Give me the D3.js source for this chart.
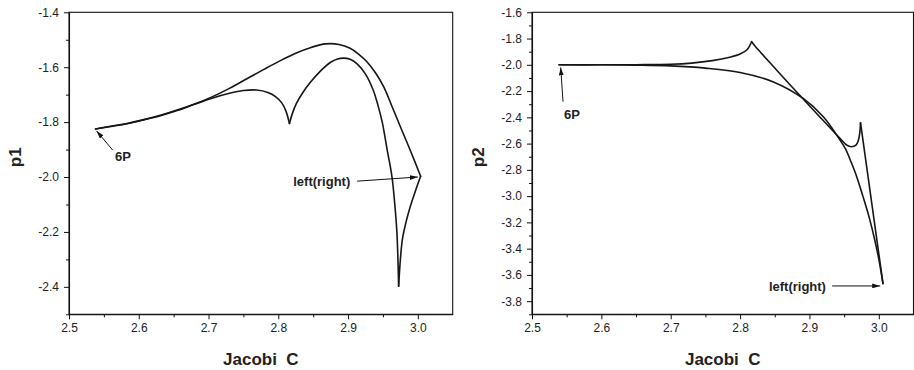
<!DOCTYPE html>
<html>
<head>
<meta charset="utf-8">
<script src="https://cdn.jsdelivr.net/npm/d3@7"></script>
<style>
  html, body { margin: 0; padding: 0; background: #fff; }
  svg { display: block; }
  text { font-family: "Liberation Sans", Arial, Helvetica, sans-serif; }
</style>
</head>
<body>
<svg id="chart" width="914" height="370"></svg>
<script>
// ---------------- data ----------------
const xMajorTicks = [2.5, 2.6, 2.7, 2.8, 2.9, 3.0];
const xMinorTicks = [2.55, 2.65, 2.75, 2.85, 2.95];
const p1MajorTicks = [-2.4, -2.2, -2.0, -1.8, -1.6, -1.4];
const p1MinorTicks = [-2.5, -2.3, -2.1, -1.9, -1.7, -1.5];
const p2MajorTicks = [-3.8, -3.6, -3.4, -3.2, -3.0, -2.8, -2.6, -2.4, -2.2, -2.0, -1.8, -1.6];
const p2MinorTicks = [-3.9, -3.7, -3.5, -3.3, -3.1, -2.9, -2.7, -2.5, -2.3, -2.1, -1.9, -1.7];
const xDomain = [2.5, 3.05];
const p1Domain = [-2.5, -1.4];
const p2Domain = [-3.9, -1.6];

// p1 curve, split at its cusps (Jacobi C, p1)
const p1Upper = [[2.538,-1.825],[2.56,-1.815],[2.583,-1.805],[2.607,-1.791],[2.631,-1.775],[2.655,-1.756],
  [2.68,-1.734],[2.705,-1.708],[2.73,-1.677],[2.755,-1.642],[2.78,-1.607],[2.803,-1.576],[2.825,-1.549],
  [2.848,-1.527],[2.868,-1.515],[2.887,-1.517],[2.903,-1.531],[2.915,-1.552],[2.927,-1.58],[2.94,-1.623],
  [2.951,-1.671],[2.963,-1.743],[2.975,-1.817],[2.99,-1.908],[3.004,-1.997]];
const p1RightCusp = [[3.004,-1.997],[2.998,-2.04],[2.989,-2.109],[2.983,-2.165],[2.978,-2.225],[2.975,-2.3],[2.9725,-2.398]];
const p1Hump = [[2.9725,-2.398],[2.9715,-2.3],[2.970,-2.2],[2.967,-2.1],[2.963,-2.0],[2.956,-1.9],[2.949,-1.8],
  [2.943,-1.74],[2.936,-1.683],[2.925,-1.625],[2.913,-1.588],[2.903,-1.571],[2.893,-1.567],[2.885,-1.57],
  [2.875,-1.582],[2.86,-1.615],[2.846,-1.655],[2.835,-1.693],[2.826,-1.732],[2.82,-1.77],[2.816,-1.805]];
const p1Lower = [[2.816,-1.805],[2.811,-1.76],[2.805,-1.73],[2.796,-1.707],[2.785,-1.692],[2.769,-1.683],
  [2.75,-1.685],[2.73,-1.695],[2.705,-1.713],[2.68,-1.735],[2.655,-1.758],[2.631,-1.777],[2.607,-1.792],
  [2.583,-1.806],[2.56,-1.816],[2.538,-1.825]];

// p2 curve, split at its cusps (Jacobi C, p2)
const p2Upper = [[2.539,-2.0],[2.6,-2.0],[2.65,-1.999],[2.7,-1.996],[2.73,-1.987],[2.76,-1.968],[2.785,-1.942],
  [2.8,-1.918],[2.81,-1.885],[2.8166,-1.824]];
const p2Dip = [[2.8166,-1.824],[2.822,-1.860],[2.83,-1.908],[2.848,-2.013],[2.867,-2.123],[2.886,-2.232],
  [2.915,-2.397],[2.944,-2.56],[2.9535,-2.611],[2.9607,-2.624],[2.967,-2.612],[2.9705,-2.575],[2.9725,-2.52],[2.9736,-2.441]];
const p2Drop = [[2.9736,-2.441],[3.006,-3.666]];
const p2Lower = [[3.006,-3.666],[3.0,-3.48],[2.994,-3.33],[2.986,-3.16],[2.977,-3.0],[2.968,-2.85],[2.96,-2.74],
  [2.952,-2.64],[2.944,-2.573],[2.92,-2.396],[2.891,-2.256],[2.848,-2.13],[2.8,-2.058],[2.75,-2.025],[2.7,-2.008],
  [2.65,-2.002],[2.6,-2.0],[2.539,-2.0]];

// annotations in data coordinates: label position, arrow tail, arrow head
const p1Notes = [
  {label: "6P", tx: 2.566, ty: -1.942, x1: 2.5627, y1: -1.902, x2: 2.5395, y2: -1.832, anchor: "start"},
  {label: "left(right)", tx: 2.8214, ty: -2.033, x1: 2.913, y1: -2.015, x2: 3.0, y2: -2.0, anchor: "start"}
];
const p2Notes = [
  {label: "6P", tx: 2.5461, ty: -2.413, x1: 2.5447, y1: -2.281, x2: 2.5414, y2: -2.02, anchor: "start"},
  {label: "left(right)", tx: 2.8415, ty: -3.724, x1: 2.9327, y1: -3.684, x2: 3.002, y2: -3.684, anchor: "start"}
];

// ---------------- drawing ----------------
const svg = d3.select("#chart");
const defs = svg.append("defs");
defs.append("marker")
  .attr("id", "arrow")
  .attr("viewBox", "0 0 10 6")
  .attr("refX", 10).attr("refY", 3)
  .attr("markerWidth", 8).attr("markerHeight", 5)
  .attr("markerUnits", "userSpaceOnUse")
  .attr("orient", "auto")
  .append("path").attr("d", "M0,0 L10,3 L0,6 Z").attr("fill", "#111");

function drawPanel(cfg) {
  const x = d3.scaleLinear().domain(xDomain).range([cfg.left, cfg.right]);
  const y = d3.scaleLinear().domain(cfg.yDomain).range([cfg.bottom, cfg.top]);
  const g = svg.append("g");
  const fmt = d => d.toFixed(1);

  // frame
  g.append("rect")
    .attr("x", cfg.left).attr("y", cfg.top)
    .attr("width", cfg.right - cfg.left).attr("height", cfg.bottom - cfg.top)
    .attr("fill", "none").attr("stroke", "#111").attr("stroke-width", 1.1);

  // x axis
  g.append("g").attr("transform", `translate(0,${cfg.bottom})`)
    .call(d3.axisBottom(x).tickValues(xMajorTicks).tickFormat(fmt).tickSizeInner(5).tickSizeOuter(0).tickPadding(4));
  g.append("g").attr("transform", `translate(0,${cfg.bottom})`)
    .call(d3.axisBottom(x).tickValues(xMinorTicks).tickFormat("").tickSizeInner(3).tickSizeOuter(0))
    .select(".domain").remove();

  // y axis
  g.append("g").attr("transform", `translate(${cfg.left},0)`)
    .call(d3.axisLeft(y).tickValues(cfg.yMajor).tickFormat(fmt).tickSizeInner(5).tickSizeOuter(0).tickPadding(5));
  g.append("g").attr("transform", `translate(${cfg.left},0)`)
    .call(d3.axisLeft(y).tickValues(cfg.yMinor).tickFormat("").tickSizeInner(3).tickSizeOuter(0))
    .select(".domain").remove();

  g.selectAll(".domain").attr("stroke", "#111").attr("stroke-width", 1.1);
  g.selectAll(".tick line").attr("stroke", "#111");
  g.selectAll(".tick text").attr("font-size", 12).attr("fill", "#222")
    .style("font-family", '"Liberation Sans", Arial, sans-serif');

  // axis titles
  g.append("text")
    .attr("x", (cfg.left + cfg.right) / 2).attr("y", 365)
    .attr("text-anchor", "middle").attr("font-size", 17).attr("font-weight", "bold").attr("fill", "#222")
    .attr("xml:space", "preserve").style("white-space", "pre")
    .text("Jacobi  C");
  g.append("text")
    .attr("transform", `translate(${cfg.titleX},${(cfg.top + cfg.bottom) / 2 - 6}) rotate(-90)`)
    .attr("text-anchor", "middle").attr("font-size", 17).attr("font-weight", "bold").attr("fill", "#222")
    .text(cfg.yTitle);

  // curves
  const line = d3.line().x(d => x(d[0])).y(d => y(d[1])).curve(d3.curveCatmullRom.alpha(0.5));
  g.selectAll("path.curve").data(cfg.segments).join("path")
    .attr("class", "curve")
    .attr("d", line)
    .attr("fill", "none").attr("stroke", "#161616").attr("stroke-width", 1.6)
    .attr("stroke-linejoin", "round").attr("stroke-linecap", "round");

  // annotations
  cfg.notes.forEach(n => {
    g.append("line")
      .attr("x1", x(n.x1)).attr("y1", y(n.y1)).attr("x2", x(n.x2)).attr("y2", y(n.y2))
      .attr("stroke", "#111").attr("stroke-width", 1).attr("marker-end", "url(#arrow)");
    g.append("text")
      .attr("x", x(n.tx)).attr("y", y(n.ty)).attr("text-anchor", n.anchor)
      .attr("font-size", 13).attr("font-weight", "bold").attr("fill", "#222")
      .text(n.label);
  });
}

drawPanel({
  left: 69, right: 452.7, top: 12.3, bottom: 314.3, yDomain: p1Domain,
  yMajor: p1MajorTicks, yMinor: p1MinorTicks, yTitle: "p1", titleX: 21,
  segments: [p1Upper, p1RightCusp, p1Hump, p1Lower], notes: p1Notes
});
drawPanel({
  left: 532, right: 913.5, top: 12.3, bottom: 314.3, yDomain: p2Domain,
  yMajor: p2MajorTicks, yMinor: p2MinorTicks, yTitle: "p2", titleX: 484,
  segments: [p2Upper, p2Dip, p2Drop, p2Lower], notes: p2Notes
});
</script>
</body>
</html>
